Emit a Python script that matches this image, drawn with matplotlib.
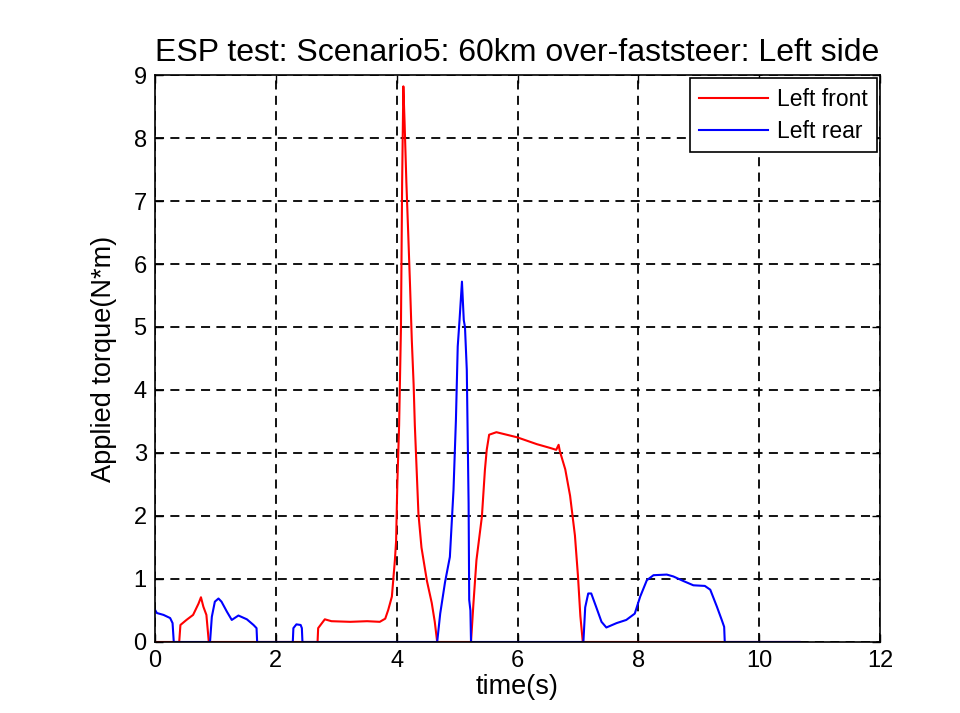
import numpy as np
import matplotlib.pyplot as plt

plt.rcParams['font.family'] = ['Liberation Sans', 'DejaVu Sans']

# Left front torque (N*m) vs time (s)
t_front = [0.00, 0.40, 0.42, 0.52, 0.63, 0.72, 0.76, 0.80, 0.85, 0.89,
           2.69, 2.70, 2.81, 2.92, 3.23, 3.51, 3.72, 3.81, 3.86, 3.92,
           3.97, 3.99, 4.01, 4.04, 4.07, 4.09, 4.11, 4.13, 4.16, 4.19,
           4.22, 4.25, 4.28, 4.30, 4.36, 4.41, 4.50, 4.58, 4.63, 4.67,
           5.23, 5.27, 5.32, 5.41, 5.46, 5.49, 5.53, 5.65, 5.99, 6.32,
           6.54, 6.64, 6.68, 6.70, 6.79, 6.87, 6.95, 7.00, 7.04, 7.08, 10.67]
front = [0.00, 0.00, 0.27, 0.35, 0.43, 0.61, 0.71, 0.56, 0.43, 0.00,
         0.00, 0.22, 0.36, 0.33, 0.32, 0.33, 0.32, 0.37, 0.51, 0.72,
         1.30, 1.60, 2.50, 3.44, 4.97, 7.30, 8.82, 8.26, 7.30, 6.50,
         5.68, 4.79, 4.09, 3.44, 2.03, 1.50, 0.97, 0.62, 0.32, 0.00,
         0.00, 0.61, 1.30, 1.99, 2.73, 3.05, 3.29, 3.33, 3.25, 3.14,
         3.08, 3.05, 3.13, 3.03, 2.74, 2.32, 1.69, 1.05, 0.41, 0.00, 0.00]

# Left rear torque (N*m) vs time (s)
t_rear = [0.00, 0.03, 0.14, 0.25, 0.29, 0.31, 0.91, 0.94, 0.99, 1.05,
          1.10, 1.19, 1.27, 1.38, 1.52, 1.63, 1.68, 1.69, 2.28, 2.29,
          2.34, 2.41, 2.43, 2.44, 4.67, 4.72, 4.80, 4.88, 4.94, 4.98,
          5.01, 5.04, 5.08, 5.11, 5.13, 5.16, 5.19, 5.20, 5.22, 5.23,
          7.09, 7.12, 7.17, 7.22, 7.30, 7.39, 7.47, 7.64, 7.80, 7.94,
          8.03, 8.14, 8.25, 8.47, 8.58, 8.74, 8.91, 9.10, 9.19, 9.30,
          9.38, 9.42, 9.43, 10.67]
rear = [0.51, 0.46, 0.43, 0.38, 0.30, 0.00, 0.00, 0.40, 0.64, 0.69,
        0.64, 0.48, 0.35, 0.42, 0.36, 0.27, 0.22, 0.00, 0.00, 0.22,
        0.28, 0.27, 0.22, 0.00, 0.00, 0.45, 0.95, 1.35, 2.41, 3.52,
        4.69, 5.11, 5.72, 5.11, 5.00, 4.32, 2.20, 0.67, 0.50, 0.00,
        0.00, 0.55, 0.77, 0.77, 0.56, 0.32, 0.23, 0.30, 0.35, 0.45,
        0.72, 0.98, 1.06, 1.07, 1.04, 0.97, 0.90, 0.89, 0.83, 0.56,
        0.35, 0.24, 0.00, 0.00]

fig = plt.figure(figsize=(9.6, 7.13), dpi=100)
ax = fig.add_axes([0.1615, 0.0996, 0.7552, 0.7952])

ax.plot(t_front, front, color='red', lw=1.5, label='Left front')
ax.plot(t_rear, rear, color='blue', lw=1.5, label='Left rear')

ax.set_xlim(0, 12)
ax.set_ylim(0, 9)
ax.set_xticks(range(0, 13, 2))
ax.set_yticks(range(0, 10))
ax.grid(True, color='black', linestyle=(0, (5, 3.5)), lw=1.3)
ax.tick_params(direction='in', length=6, width=1, labelsize=17,
               top=True, right=True, pad=6)
for s in ax.spines.values():
    s.set_linewidth(1.2)

ax.set_xlabel('time(s)', fontsize=19.5, labelpad=1)
ax.set_ylabel('Applied torque(N*m)', fontsize=19.5, labelpad=12)
ax.set_title('ESP test: Scenario5: 60km over-faststeer: Left side', fontsize=23, pad=10)

leg = ax.legend(loc='upper right', fontsize=16.5, fancybox=False, framealpha=1,
                edgecolor='black', handlelength=3.0, borderaxespad=0.15,
                borderpad=0.4, labelspacing=0.4, handletextpad=0.4)
leg.get_frame().set_linewidth(1.2)

fig.savefig('out.png', dpi=100)
